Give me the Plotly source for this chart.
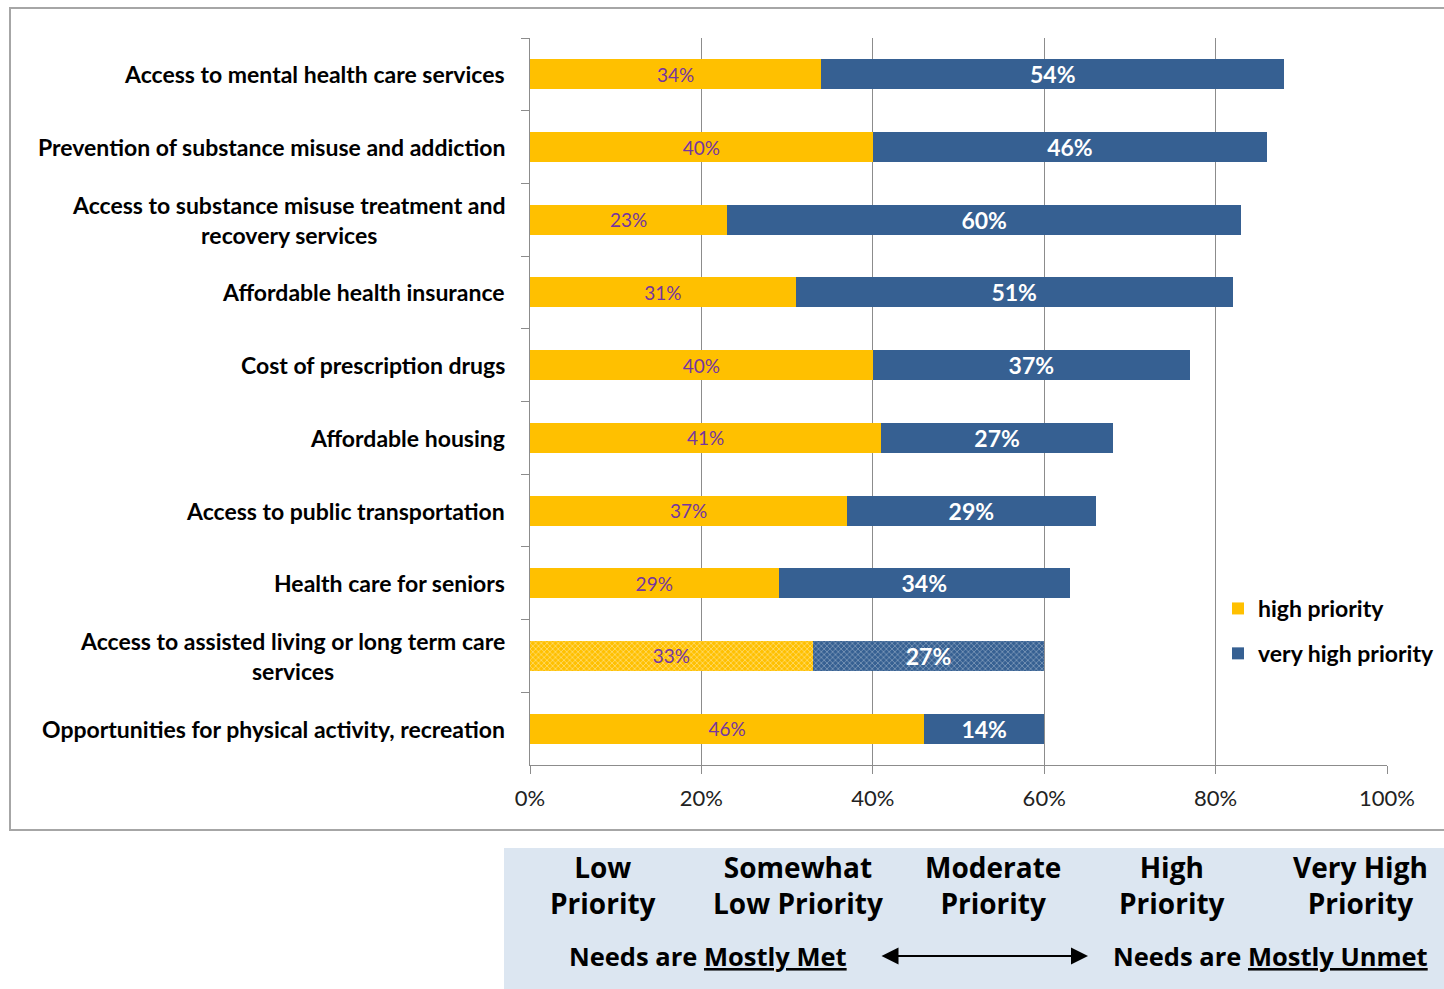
import plotly.graph_objects as go

# Survey results: share of respondents rating each need as a priority
categories = [
    "Access to mental health care services",
    "Prevention of substance misuse and addiction",
    "Access to substance misuse treatment and<br>recovery services",
    "Affordable health insurance",
    "Cost of prescription drugs",
    "Affordable housing",
    "Access to public transportation",
    "Health care for seniors",
    "Access to assisted living or long term care<br>services",
    "Opportunities for physical activity, recreation",
]
high_priority = [34, 40, 23, 31, 40, 41, 37, 29, 33, 46]
very_high_priority = [54, 46, 60, 51, 37, 27, 29, 34, 27, 14]
highlighted = {"Access to assisted living or long term care<br>services"}

x_ticks = [0, 20, 40, 60, 80, 100]
scale_labels = [
    "Low<br>Priority",
    "Somewhat<br>Low Priority",
    "Moderate<br>Priority",
    "High<br>Priority",
    "Very High<br>Priority",
]
met_label = "Needs are <u>Mostly Met</u>"
unmet_label = "Needs are <u>Mostly Unmet</u>"

W, H = 1444, 989
L, R, T, B = 530, 1387, 38, 765


def px_x(p):
    return (p - L) / (R - L)


def px_y(p):
    return (B - p) / (B - T)


YELLOW = "#FFC000"
BLUE = "#366092"
GRID = "#8C8C8C"
FONT = "Lato"
BOX_FONT = "Open Sans"

shapes_list = ["x" if c in highlighted else "" for c in categories]

fig = go.Figure()
fig.add_trace(go.Bar(
    y=categories, x=high_priority, orientation="h", name="high priority",
    legendgroup="a",
    text=[f"{v}%" for v in high_priority], texttemplate="%{text}",
    marker=dict(color=YELLOW, line=dict(width=0),
                pattern=dict(shape=shapes_list, fgcolor="white", fgopacity=0.55,
                             size=4, solidity=0.3)),
    textposition="inside", insidetextanchor="middle", constraintext="none",
    textangle=0, insidetextfont=dict(family=FONT, size=19, color="#7535A0"),
    hoverinfo="skip",
))
fig.add_trace(go.Bar(
    y=categories, x=very_high_priority, orientation="h", name="very high priority",
    legendgroup="b",
    text=[f"{v}%" for v in very_high_priority], texttemplate="<b>%{text}</b>",
    marker=dict(color=BLUE, line=dict(width=0),
                pattern=dict(shape=shapes_list, fgcolor="white", fgopacity=0.45,
                             size=4, solidity=0.3)),
    textposition="inside", insidetextanchor="middle", constraintext="none",
    textangle=0, insidetextfont=dict(family=FONT, size=23, color="white"),
    hoverinfo="skip",
))

annotations = []
for c in categories:
    annotations.append(dict(
        x=px_x(507), xref="paper", y=c, yref="y", text=f"<b>{c}</b>",
        showarrow=False, xanchor="right", yanchor="middle", align="center",
        font=dict(family=FONT, size=23, color="black"),
    ))

# priority scale panel below the chart
col_centers = [603, 798, 993, 1172, 1360]
for lbl, cx in zip(scale_labels, col_centers):
    annotations.append(dict(
        x=px_x(cx), xref="paper", y=px_y(885), yref="paper",
        text=f"<b>{lbl}</b>", showarrow=False, xanchor="center", yanchor="middle",
        align="center", font=dict(family=BOX_FONT, size=28, color="black"),
    ))
annotations.append(dict(
    x=px_x(708), xref="paper", y=px_y(956), yref="paper", text=f"<b>{met_label}</b>",
    showarrow=False, xanchor="center", yanchor="middle",
    font=dict(family=BOX_FONT, size=25.5, color="black"),
))
annotations.append(dict(
    x=px_x(1270), xref="paper", y=px_y(956), yref="paper", text=f"<b>{unmet_label}</b>",
    showarrow=False, xanchor="center", yanchor="middle",
    font=dict(family=BOX_FONT, size=25.5, color="black"),
))
annotations.append(dict(
    x=px_x(1088), xref="paper", y=px_y(956), yref="paper",
    ax=-208, ay=0, axref="pixel", ayref="pixel", text="",
    showarrow=True, arrowhead=2, arrowside="end+start", arrowsize=1.7,
    arrowwidth=2, arrowcolor="black",
))

shapes = [
    dict(type="rect", xref="paper", yref="paper",
         x0=px_x(10), x1=px_x(1446), y0=px_y(830), y1=px_y(8),
         line=dict(color="#A6A6A6", width=2), fillcolor="rgba(0,0,0,0)", layer="below"),
    dict(type="rect", xref="paper", yref="paper",
         x0=px_x(504), x1=px_x(1446), y0=px_y(990), y1=px_y(848),
         line=dict(width=0), fillcolor="#DCE6F1", layer="below"),
]

fig.update_layout(
    width=W, height=H,
    margin=dict(l=L, r=W - R, t=T, b=H - B, autoexpand=False),
    barmode="stack", bargap=0.587,
    plot_bgcolor="white", paper_bgcolor="white",
    font=dict(family=FONT, color="black"),
    showlegend=True,
    legend=dict(
        x=px_x(1218), y=px_y(587), xanchor="left", yanchor="top",
        bgcolor="rgba(0,0,0,0)", traceorder="grouped", tracegroupgap=12,
        font=dict(family=FONT, size=23, color="black", weight="bold"),
        itemwidth=30,
    ),
    annotations=annotations,
    shapes=shapes,
    xaxis=dict(
        range=[0, 100], tickvals=x_ticks, ticktext=[f"{v}%" for v in x_ticks],
        showgrid=True, gridcolor=GRID, gridwidth=1, zeroline=False,
        showline=True, linecolor=GRID, linewidth=1,
        ticks="outside", ticklen=8, tickcolor=GRID,
        tickfont=dict(family=FONT, size=22, color="#222"), ticklabelstandoff=6,
    ),
    yaxis=dict(
        autorange="reversed", showticklabels=False, showgrid=False, zeroline=False,
        showline=True, linecolor=GRID, linewidth=1,
        ticks="outside", tickson="boundaries", ticklen=8, tickcolor=GRID,
    ),
)

fig.write_html("out.html")
